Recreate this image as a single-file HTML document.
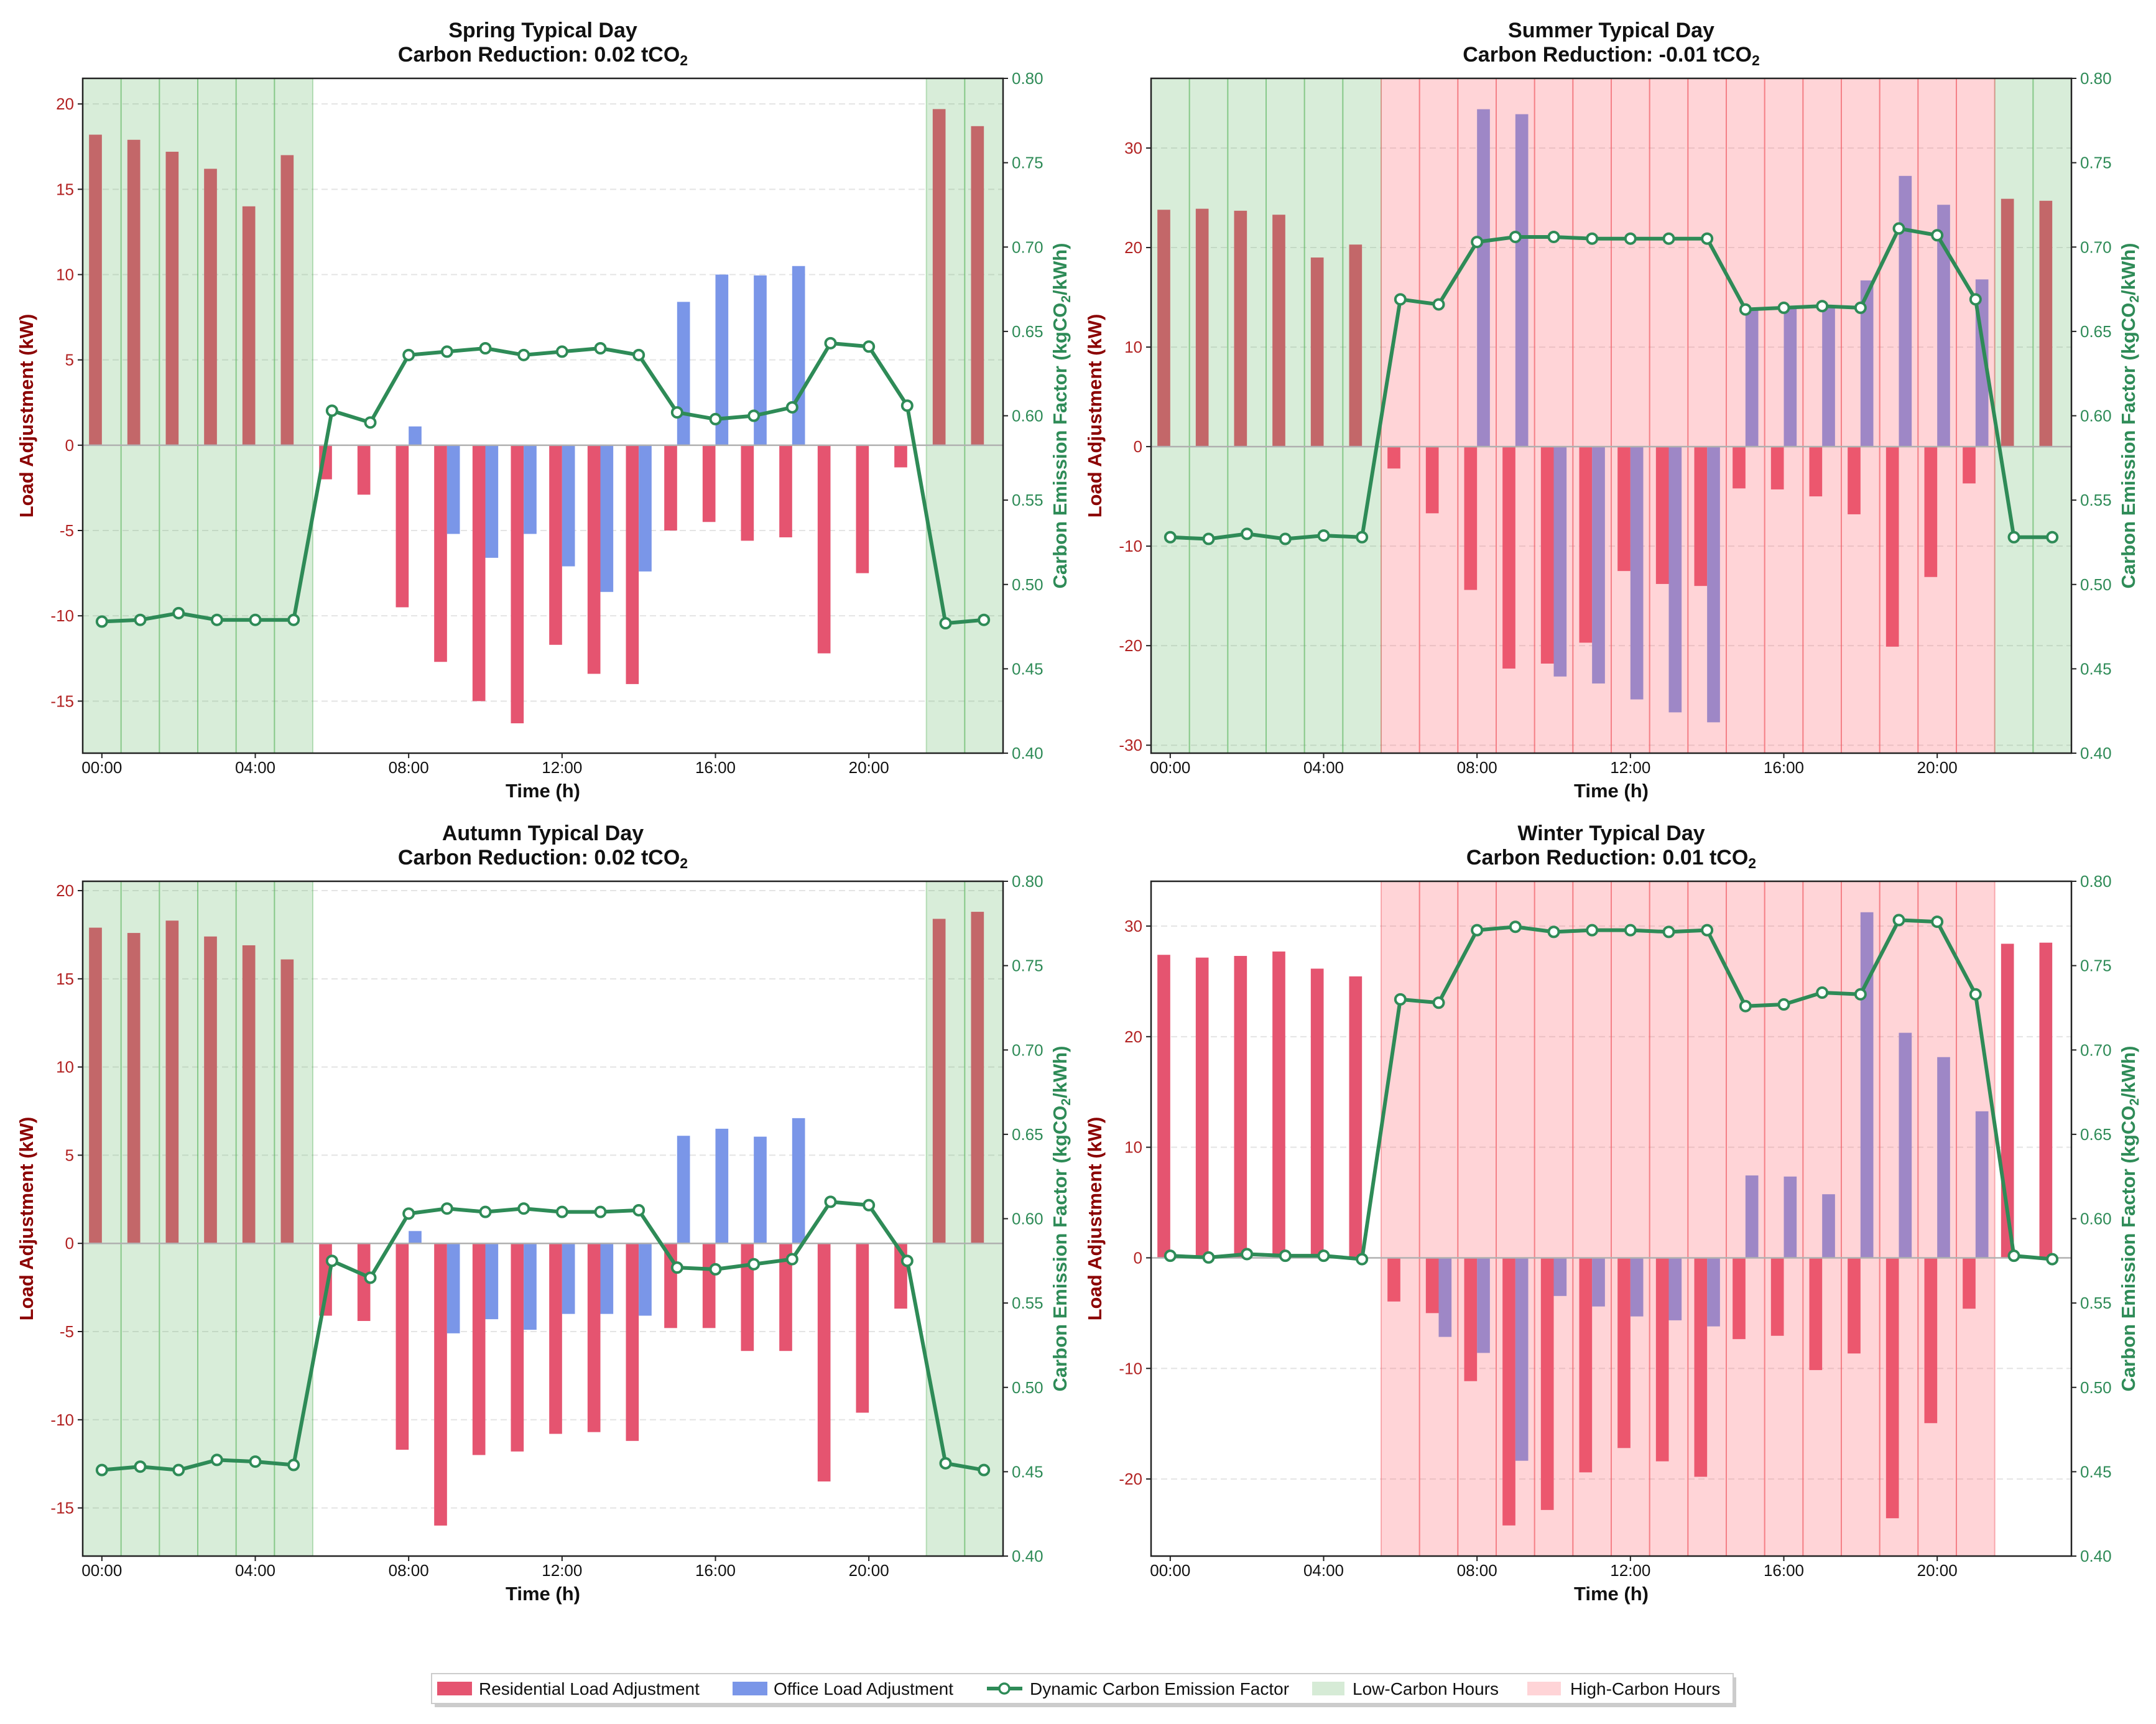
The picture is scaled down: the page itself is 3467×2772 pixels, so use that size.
<!DOCTYPE html>
<html><head><meta charset="utf-8">
<style>
html,body{margin:0;padding:0;background:#fff;}
svg{display:block;font-family:"Liberation Sans",sans-serif;}
</style></head>
<body>
<svg id="fig" width="3467" height="2772" viewBox="0 0 3467 2772" xmlns="http://www.w3.org/2000/svg">
<rect width="3467" height="2772" fill="#fff"/>
<g id="panels"></g>
<g>
  <rect x="699" y="2697" width="2093" height="48" fill="#999" opacity="0.5"/>
  <rect x="694" y="2691" width="2093" height="48" fill="#fff" stroke="#ccc" stroke-width="2"/>
  <g>
    <rect x="703" y="2704" width="56" height="22" fill="rgb(229,84,112)"/>
    <text x="770" y="2725" font-size="28" fill="#111">Residential Load Adjustment</text>
  </g>
  <g>
    <rect x="1178" y="2704" width="56" height="22" fill="rgb(122,150,232)"/>
    <text x="1244" y="2725" font-size="28" fill="#111">Office Load Adjustment</text>
  </g>
  <g>
    <line x1="1587" y1="2715" x2="1644" y2="2715" stroke="#2e8b57" stroke-width="6"/>
    <circle cx="1615" cy="2715" r="8" fill="#fff" stroke="#2e8b57" stroke-width="3.5"/>
    <text x="1656" y="2725" font-size="28" fill="#111">Dynamic Carbon Emission Factor</text>
  </g>
  <g>
    <rect x="2110" y="2704" width="52" height="22" fill="#d6ebd6"/>
    <text x="2175" y="2725" font-size="28" fill="#111">Low-Carbon Hours</text>
  </g>
  <g>
    <rect x="2456" y="2704" width="54" height="22" fill="#ffd4d7"/>
    <text x="2525" y="2725" font-size="28" fill="#111">High-Carbon Hours</text>
  </g>
</g>
</svg>
<script>
const hours = [0,1,2,3,4,5,6,7,8,9,10,11,12,13,14,15,16,17,18,19,20,21,22,23];
const xTickHours = [0,4,8,12,16,20];
const xTickLabels = ["00:00","04:00","08:00","12:00","16:00","20:00"];
const cefTicks = [0.40,0.45,0.50,0.55,0.60,0.65,0.70,0.75,0.80];

const springRes = [18.2,17.9,17.2,16.2,14.0,17.0,-2.0,-2.9,-9.5,-12.7,-15.0,-16.3,-11.7,-13.4,-14.0,-5.0,-4.5,-5.6,-5.4,-12.2,-7.5,-1.3,19.7,18.7];
const springOff = [0,0,0,0,0,0,0,0,1.1,-5.2,-6.6,-5.2,-7.1,-8.6,-7.4,8.4,10.0,9.95,10.5,0,0,0,0,0];
const springCef = [0.478,0.479,0.483,0.479,0.479,0.479,0.603,0.596,0.636,0.638,0.640,0.636,0.638,0.640,0.636,0.602,0.598,0.600,0.605,0.643,0.641,0.606,0.477,0.479];
const springTicks = [-15,-10,-5,0,5,10,15,20];
const springLow = [0,1,2,3,4,5,22,23];
const springHigh = [];

const summerRes = [23.8,23.9,23.7,23.3,19.0,20.3,-2.2,-6.7,-14.4,-22.3,-21.8,-19.7,-12.5,-13.8,-14.0,-4.2,-4.3,-5.0,-6.8,-20.1,-13.1,-3.7,24.9,24.7];
const summerOff = [0,0,0,0,0,0,0,0,33.9,33.4,-23.1,-23.8,-25.4,-26.7,-27.7,13.8,14.0,14.0,16.7,27.2,24.3,16.8,0,0];
const summerCef = [0.528,0.527,0.530,0.527,0.529,0.528,0.669,0.666,0.703,0.706,0.706,0.705,0.705,0.705,0.705,0.663,0.664,0.665,0.664,0.711,0.707,0.669,0.528,0.528];
const summerTicks = [-30,-20,-10,0,10,20,30];
const summerLow = [0,1,2,3,4,5,22,23];
const summerHigh = [6,7,8,9,10,11,12,13,14,15,16,17,18,19,20,21];

const autumnRes = [17.9,17.6,18.3,17.4,16.9,16.1,-4.1,-4.4,-11.7,-16.0,-12.0,-11.8,-10.8,-10.7,-11.2,-4.8,-4.8,-6.1,-6.1,-13.5,-9.6,-3.7,18.4,18.8];
const autumnOff = [0,0,0,0,0,0,0,0,0.7,-5.1,-4.3,-4.9,-4.0,-4.0,-4.1,6.1,6.5,6.05,7.1,0,0,0,0,0];
const autumnCef = [0.451,0.453,0.451,0.457,0.456,0.454,0.575,0.565,0.603,0.606,0.604,0.606,0.604,0.604,0.605,0.571,0.570,0.573,0.576,0.610,0.608,0.575,0.455,0.451];
const autumnTicks = [-15,-10,-5,0,5,10,15,20];
const autumnLow = [0,1,2,3,4,5,22,23];
const autumnHigh = [];

const winterRes = [27.4,27.15,27.3,27.7,26.15,25.45,-3.95,-5.0,-11.15,-24.2,-22.8,-19.4,-17.2,-18.4,-19.8,-7.35,-7.05,-10.15,-8.65,-23.55,-14.95,-4.6,28.4,28.5];
const winterOff = [0,0,0,0,0,0,0,-7.15,-8.6,-18.35,-3.45,-4.4,-5.3,-5.65,-6.2,7.45,7.35,5.75,31.25,20.35,18.15,13.25,0,0];
const winterCef = [0.578,0.577,0.579,0.578,0.578,0.576,0.730,0.728,0.771,0.773,0.770,0.771,0.771,0.770,0.771,0.726,0.727,0.734,0.733,0.777,0.776,0.733,0.578,0.576];
const winterTicks = [-20,-10,0,10,20,30];
const winterLow = [];
const winterHigh = [6,7,8,9,10,11,12,13,14,15,16,17,18,19,20,21];

const panels = [
 {key:"spring",title:"Spring Typical Day",red:"0.02",x0:133,y0:126,ylo:-18.05,yhi:21.5,res:springRes,off:springOff,cef:springCef,ticks:springTicks,low:springLow,high:springHigh},
 {key:"summer",title:"Summer Typical Day",red:"-0.01",x0:1851,y0:126,ylo:-30.8,yhi:37.0,res:summerRes,off:summerOff,cef:summerCef,ticks:summerTicks,low:summerLow,high:summerHigh},
 {key:"autumn",title:"Autumn Typical Day",red:"0.02",x0:133,y0:1417,ylo:-17.73,yhi:20.53,res:autumnRes,off:autumnOff,cef:autumnCef,ticks:autumnTicks,low:autumnLow,high:autumnHigh},
 {key:"winter",title:"Winter Typical Day",red:"0.01",x0:1851,y0:1417,ylo:-26.97,yhi:34.05,res:winterRes,off:winterOff,cef:winterCef,ticks:winterTicks,low:winterLow,high:winterHigh}
];
const W = 1480, H = 1085;
const NS = "http://www.w3.org/2000/svg";
function mk(tag, attrs, parent){
  const e = document.createElementNS(NS, tag);
  for (const k in attrs) e.setAttribute(k, attrs[k]);
  if (parent) parent.appendChild(e);
  return e;
}
const root = document.getElementById("panels");
panels.forEach(p => {
  const g = mk("g", {}, root);
  
  
  const xs = h => p.x0 + (h + 0.5) / 24 * W;
  const ys = v => p.y0 + (p.yhi - v) / (p.yhi - p.ylo) * H;
  const yc = v => p.y0 + (0.8 - v) / 0.4 * H;
  const cx = p.x0 + W / 2;
  const t1 = mk("text", {x:cx, y:p.y0-66, "text-anchor":"middle", "font-size":34, "font-weight":"bold", fill:"#111"}, g);
  t1.textContent = p.title;
  
  
  const t2 = mk("text", {x:cx, y:p.y0-27, "text-anchor":"middle", "font-size":34, "font-weight":"bold", fill:"#111"}, g);
  t2.textContent = "Carbon Reduction: " + p.red + " tCO";
  const sub = mk("tspan", {dy:6, "font-size":23}, t2);
  sub.textContent = "2";
  
  
  p.ticks.forEach(v => {
    const gl = mk("line", {x1:p.x0, x2:p.x0+W, y1:ys(v), y2:ys(v), stroke:"#e4e4e4", "stroke-width":2, "stroke-dasharray":"10,6"}, g);
    
    
  });
  const bw = 0.335 / 24 * W;
  hours.forEach((h, i) => {
    const r = p.res[i];
    const rb = mk("rect", {x:xs(h)-bw, y:Math.min(ys(r), ys(0)), width:bw, height:Math.abs(ys(r)-ys(0)), fill:"rgb(229,84,112)"}, g);
    
    
    const o = p.off[i];
    if (o !== 0) {
      const ob = mk("rect", {x:xs(h), y:Math.min(ys(o), ys(0)), width:bw, height:Math.abs(ys(o)-ys(0)), fill:"rgb(122,150,232)"}, g);
      
      
    }
  });
  const spans = [[p.low, "rgba(76,175,80,0.22)", "rgba(76,175,80,0.35)", "low-carbon-span"], [p.high, "rgba(255,95,108,0.27)", "rgba(240,90,100,0.45)", "high-carbon-span"]];
  spans.forEach(([arr, fill, edge, nm]) => {
    arr.forEach(h => {
      const sr = mk("rect", {x:xs(h-0.5), y:p.y0, width:W/24, height:H, fill:fill}, g);
      
      
      [h-0.5, h+0.5].forEach(b => {
        if (b > -0.5 && b < 23.5) mk("line", {x1:xs(b), x2:xs(b), y1:p.y0, y2:p.y0+H, stroke:edge, "stroke-width":2}, g);
      });
    });
  });
  const zl = mk("line", {x1:p.x0, x2:p.x0+W, y1:ys(0), y2:ys(0), stroke:"#b0b0b0", "stroke-width":2.5}, g);
  
  
  const fr = mk("rect", {x:p.x0, y:p.y0, width:W, height:H, fill:"none", stroke:"#222", "stroke-width":2.5}, g);
  
  
  p.ticks.forEach(v => {
    mk("line", {x1:p.x0-8, x2:p.x0, y1:ys(v), y2:ys(v), stroke:"#222", "stroke-width":2}, g);
    const tl = mk("text", {x:p.x0-14, y:ys(v)+9, "text-anchor":"end", "font-size":26, fill:"#b22222"}, g);
    tl.textContent = String(v);
    
    
  });
  cefTicks.forEach(v => {
    mk("line", {x1:p.x0+W, x2:p.x0+W+8, y1:yc(v), y2:yc(v), stroke:"#222", "stroke-width":2}, g);
    const tr = mk("text", {x:p.x0+W+14, y:yc(v)+9, "font-size":26, fill:"#2e8b57"}, g);
    tr.textContent = v.toFixed(2);
    
    
  });
  xTickHours.forEach((h, i) => {
    mk("line", {x1:xs(h), x2:xs(h), y1:p.y0+H, y2:p.y0+H+8, stroke:"#222", "stroke-width":2}, g);
    const xl = mk("text", {x:xs(h), y:p.y0+H+32, "text-anchor":"middle", "font-size":26, fill:"#111"}, g);
    xl.textContent = xTickLabels[i];
    
    
  });
  const xt = mk("text", {x:cx, y:p.y0+H+71, "text-anchor":"middle", "font-size":31, "font-weight":"bold", fill:"#111"}, g);
  xt.textContent = "Time (h)";
  
  
  const lyx = p.x0 - 80, lyy = p.y0 + H/2;
  const ly = mk("text", {x:lyx, y:lyy, "text-anchor":"middle", "font-size":31, "font-weight":"bold", fill:"#8b0000", transform:`rotate(-90 ${lyx} ${lyy})`}, g);
  ly.textContent = "Load Adjustment (kW)";
  
  
  const ryx = p.x0 + W + 102;
  const ry = mk("text", {x:ryx, y:lyy, "text-anchor":"middle", "font-size":31, "font-weight":"bold", fill:"#2e8b57", transform:`rotate(-90 ${ryx} ${lyy})`}, g);
  ry.textContent = "Carbon Emission Factor (kgCO";
  const rs = mk("tspan", {dy:6, "font-size":21}, ry); rs.textContent = "2";
  const rs2 = mk("tspan", {dy:-6}, ry); rs2.textContent = "/kWh)";
  
  
  const pts = hours.map((h, i) => xs(h) + "," + yc(p.cef[i])).join(" ");
  const pl = mk("polyline", {points:pts, fill:"none", stroke:"#2e8b57", "stroke-width":6, "stroke-linejoin":"round"}, g);
  
  
  hours.forEach((h, i) => {
    const c = mk("circle", {cx:xs(h), cy:yc(p.cef[i]), r:8, fill:"#fff", stroke:"#2e8b57", "stroke-width":4}, g);
    
    
  });
});
</script>
</body></html>
